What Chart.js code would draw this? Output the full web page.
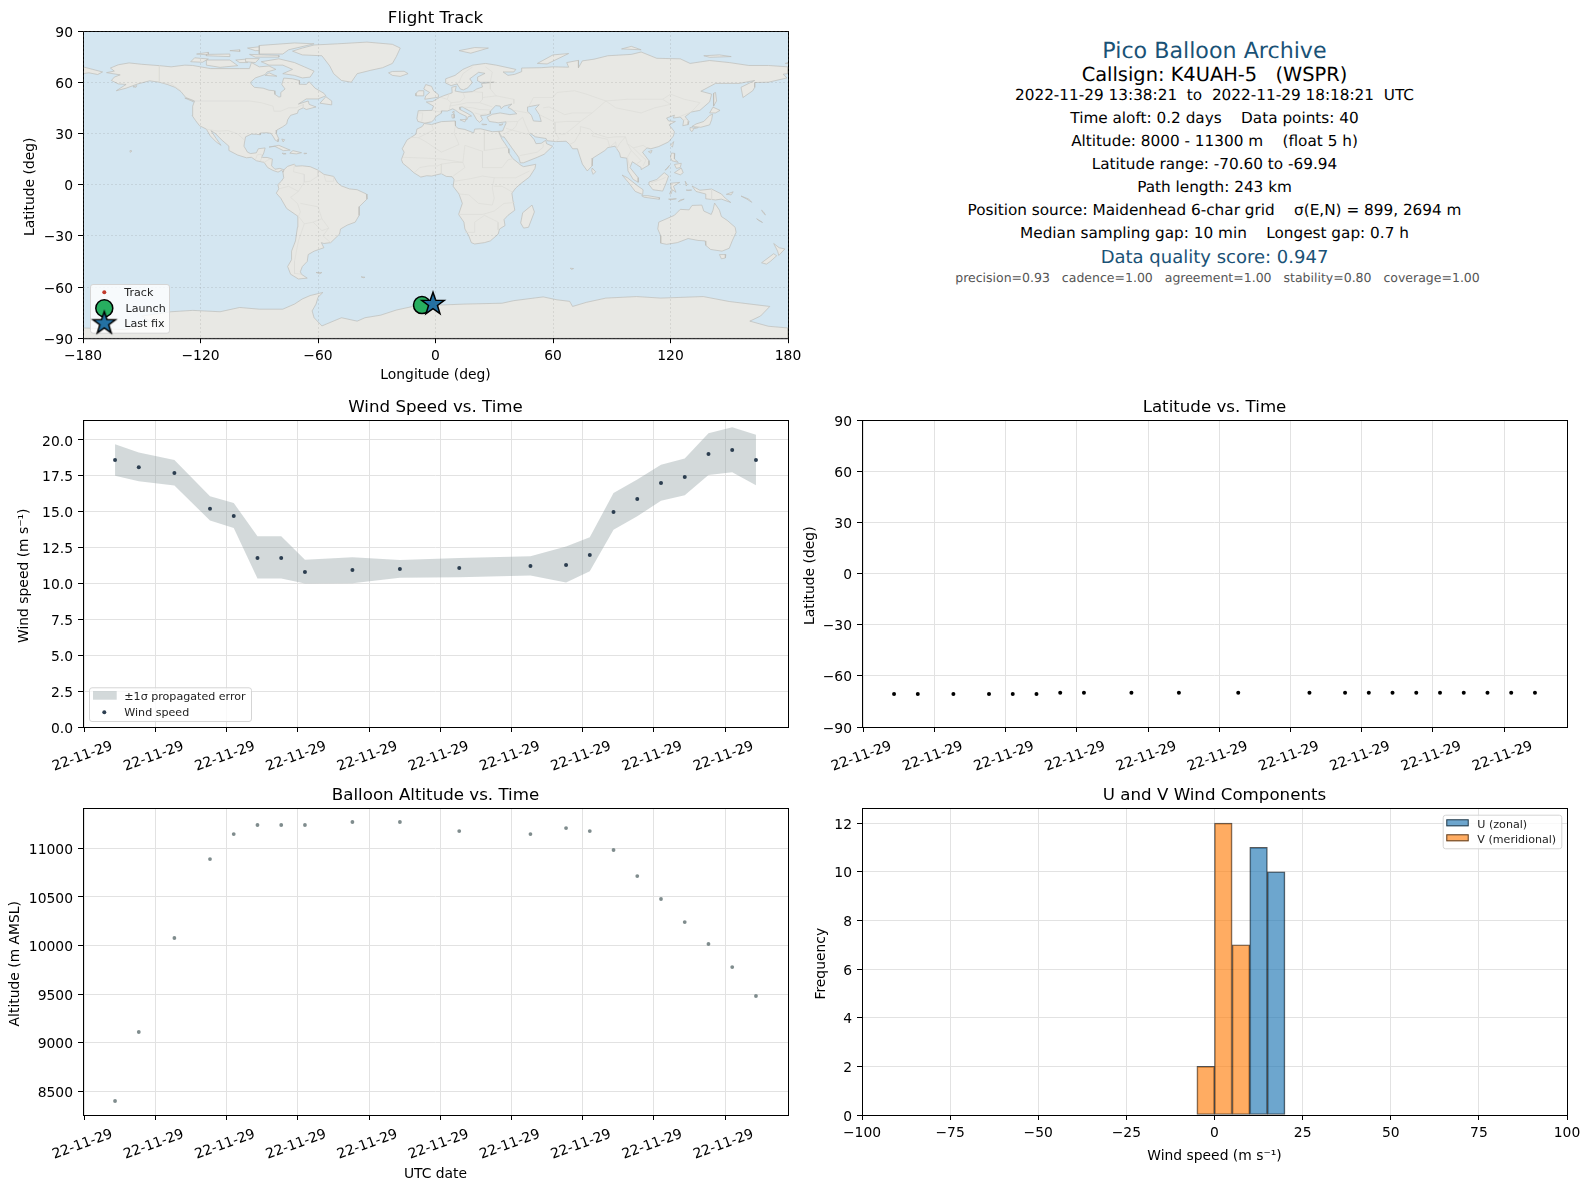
<!DOCTYPE html>
<html><head><meta charset="utf-8">
<script src="https://cdn.jsdelivr.net/npm/chart.js@4"></script>
<style>
html,body{margin:0;padding:0;background:#fff;width:1590px;height:1189px;overflow:hidden;font-family:'DejaVu Sans',sans-serif}
canvas{position:absolute;display:block}
.info{position:absolute;left:862px;width:705px;text-align:center;white-space:pre;line-height:1;text-rendering:geometricPrecision}
</style></head><body>
<canvas id="cMap" style="left:0;top:0"></canvas>
<canvas id="cWind" style="left:0;top:389px"></canvas>
<canvas id="cLat" style="left:779px;top:389px"></canvas>
<canvas id="cAlt" style="left:0;top:777px"></canvas>
<canvas id="cHist" style="left:779px;top:777px"></canvas>
<script>
// ---------- DATA ----------
const timeMinutes=[0,10,25,40,50,60,70,80,100,120,145,175,190,200,210,220,230,240,250,260,270];
const windSpeed=[18.6,18.1,17.7,15.2,14.7,11.78,11.78,10.8,10.94,11.0,11.08,11.22,11.29,11.99,14.98,15.89,17.0,17.42,19.02,19.3,18.6];
const windUpper=[19.7,19.12,18.6,16.07,15.6,13.29,13.29,11.66,11.82,11.64,11.78,11.89,12.57,13.22,16.31,17.24,18.28,18.7,20.46,20.88,20.37];
const windLower=[17.5,17.12,16.82,14.38,13.87,10.34,10.34,9.99,10.01,10.4,10.43,10.55,10.06,10.85,13.75,14.68,15.77,16.14,17.56,17.75,16.84];
const latitude=[-70.6,-70.6,-70.6,-70.6,-70.6,-70.6,-69.94,-69.94,-69.94,-69.94,-69.94,-69.94,-69.94,-69.94,-69.94,-69.94,-69.94,-69.94,-69.94,-69.94,-69.94];
const trackLon=[-6.9,-6.9,-6.5,-6,-5.6,-5.2,-4.8,-4.5,-4.1,-3.8,-3.4,-3.1,-2.9,-2.7,-2.5,-2.2,-2,-1.8,-1.6,-1.5,-1.3];
const altitude=[8401,9111,10078,10890,11147,11240,11240,11240,11271,11271,11178,11147,11209,11178,10983,10715,10479,10242,10016,9779,9481];
const timeTicks=[-13,17,47,77,107,137,167,197,227,257];
const timeTickLabels=["22-11-29","22-11-29","22-11-29","22-11-29","22-11-29","22-11-29","22-11-29","22-11-29","22-11-29","22-11-29"];
const lonTicks=[-180,-120,-60,0,60,120,180];
const latTicks=[-90,-60,-30,0,30,60,90];
const windTicks=[0,2.5,5,7.5,10,12.5,15,17.5,20];
const altTicks=[8500,9000,9500,10000,10500,11000];
const histXTicks=[-100,-75,-50,-25,0,25,50,75,100];
const histYTicks=[0,2,4,6,8,10,12];
const uBins=[12.5,17.5];
const uCounts=[11,10];
const vBins=[-2.5,2.5,7.5];
const vCounts=[2,12,7];
const launchPos=[-6.9,-70.6];
const lastFixPos=[-1.3,-69.94];
const infoLines=[
 ["Pico Balloon Archive",51,22.2,"#1a5276",0],
 ["Callsign: K4UAH-5   (WSPR)",74.3,19.4,"#000",0],
 ["2022-11-29 13:38:21  to  2022-11-29 18:18:21  UTC",95.7,15.28,"#000",0],
 ["Time aloft: 0.2 days    Data points: 40",118.7,15.28,"#000",0],
 ["Altitude: 8000 - 11300 m    (float 5 h)",141.3,15.28,"#000",0],
 ["Latitude range: -70.60 to -69.94",164.3,15.28,"#000",0],
 ["Path length: 243 km",187.7,15.28,"#000",0],
 ["Position source: Maidenhead 6-char grid    σ(E,N) = 899, 2694 m",210.3,15.28,"#000",0],
 ["Median sampling gap: 10 min    Longest gap: 0.7 h",233.3,15.28,"#000",0],
 ["Data quality score: 0.947",257.7,18,"#1a5276",0],
 ["precision=0.93   cadence=1.00   agreement=1.00   stability=0.80   coverage=1.00",278.7,12.5,"#555",3]
];
// land outlines in [lon,lat]
const northAmerica=[[-168,65.6],[-164,66.5],[-166,68.3],[-162,70.2],[-156.5,71.3],[-150,70.5],[-141,69.7],[-135,69],[-128,70],[-124,69.8],[-115,68],[-108,68],[-100,68],[-95,68],[-94,71.5],[-90,69],[-85,69.5],[-81.5,67.5],[-86,66],[-87,64.5],[-92,62.5],[-94.5,60],[-94,58.7],[-92.5,57],[-88,56.5],[-85,55.3],[-82.3,55],[-82,52.9],[-80,51.3],[-79,51.5],[-79,54],[-76.8,56],[-78.5,58.7],[-77.5,62.4],[-73,62],[-69.5,61],[-69.5,58.8],[-66,58.7],[-64.5,60.3],[-61.5,56.5],[-57,53.5],[-56,52],[-60,50.2],[-66,50.2],[-70,47.2],[-65,49],[-64.5,47],[-61,45.5],[-66,44],[-67.5,45],[-70,43.7],[-70.5,41.8],[-74,40.6],[-75.5,38],[-76,35.5],[-78,33.9],[-81,32],[-81.3,30],[-80,26.8],[-80.4,25.2],[-81.8,26],[-82.8,28],[-84,30],[-86,30.4],[-89.5,30.2],[-89.5,29.2],[-91.5,29.5],[-94,29.6],[-97,28],[-97.5,25],[-97.8,22.5],[-96,19],[-94.5,18.2],[-91.5,18.6],[-90.5,21],[-87,21.5],[-87.7,18.5],[-88.8,15.9],[-86,15.9],[-83.3,15],[-83.7,11],[-82,9],[-79.5,9.5],[-77.4,8.7],[-77.9,7.2],[-78.5,8.5],[-80.4,7.3],[-83,8.3],[-85.7,10],[-87.5,13],[-91.5,14],[-94,16],[-96.5,15.7],[-101,17.3],[-105.5,20],[-105.5,22.5],[-109,26],[-112.5,30],[-114.7,31.7],[-112,27],[-109.5,23],[-112,25],[-115,28.5],[-117,32.5],[-120.5,34.5],[-122.5,37.5],[-124.3,40.5],[-124,46],[-123,49],[-127.5,51],[-130,54.5],[-133,57],[-137,58.7],[-141,60],[-146,60.8],[-152,59],[-158,56.5],[-163,55],[-158,58.7],[-162,59],[-165.5,61],[-164,63],[-161,64.3],[-168,65.6]];
const southAmerica=[[-77.4,8.7],[-75.5,10.7],[-72,12],[-71.5,10.8],[-68,11],[-64,10.5],[-60,8.5],[-57,6],[-52,4.8],[-50,1],[-48,-0.8],[-44,-2.5],[-40,-3],[-35.3,-5.5],[-35,-8.5],[-39,-13],[-39,-18],[-41,-22],[-45,-23.7],[-48.5,-26],[-49,-29],[-53.5,-34],[-57,-34.5],[-58.3,-34],[-57,-37],[-62,-39],[-65,-41],[-65.5,-45],[-68,-48],[-69,-51],[-68.5,-52.5],[-65.5,-54.8],[-70,-55.3],[-74,-52.5],[-75.5,-48],[-73.5,-44],[-73.5,-39],[-71.5,-33],[-70.5,-25],[-70.3,-18.5],[-76,-14],[-79,-8],[-81.3,-5],[-80,-2.5],[-80.5,0],[-78.7,2],[-77.5,4],[-77.9,7.2],[-77.4,8.7]];
const africa=[[-5.8,35.8],[-2,35.2],[3,36.9],[10,37.3],[10.2,34.3],[11.5,33],[15,32.3],[19.5,30.3],[20,32.5],[23,32.7],[29,31],[32.3,31.2],[32.6,29.9],[34,26.5],[35.5,24],[37.2,21],[37.5,18.5],[39.5,15.2],[43,12],[43.3,11.5],[45,10.5],[51.2,11.9],[50.8,9.5],[48,4.5],[44,1],[41,-2],[39,-5],[39.5,-9],[40.5,-15],[37,-18],[35,-20.5],[35.5,-24],[32.7,-26],[32,-29],[28,-33],[25,-34],[20,-34.8],[18.3,-34],[17,-30],[15,-26],[14.5,-22],[11.8,-17.5],[13.7,-11],[12,-5.5],[9,-1],[9.5,3],[8.5,4.6],[5.5,4.8],[3,6.4],[-2,5],[-4.5,5.2],[-7.5,4.4],[-11,6.9],[-13.5,9.5],[-16.7,12.5],[-17.4,14.7],[-16,19],[-17,21],[-14.5,26.2],[-10,29.5],[-9.5,32.5],[-6.8,34],[-5.8,35.8]];
const eurasia=[[-5.5,36],[-9,37],[-9.5,38.8],[-8.8,43.3],[-1.8,43.5],[-1,46],[-4.7,48.4],[-1.5,48.7],[2,51],[4,52],[8.5,53.8],[8.3,57],[10.6,57.7],[10,54.8],[14,54],[19,54.5],[21,56],[24,57.2],[23.5,59.2],[30,60],[23,59.9],[21.3,61],[21.5,63],[25.3,65.2],[22,65.8],[17.5,62],[18.8,59.8],[16.5,56.7],[14.2,55.5],[12.7,56],[11,59],[8,58],[5.2,59.5],[5.2,62],[10,64],[14,67.5],[19,70],[25.5,71],[31,70],[41,67.5],[40,66],[34.5,66],[37,64],[40.5,64.6],[44,66.2],[44,68.3],[54,68.5],[60,69],[68,68.8],[67,71.5],[73,72.8],[73,68.5],[75,72.5],[81,73.5],[88,75.5],[100,76.3],[105,77.7],[113,74],[125,73.7],[130,71],[140,72.7],[150,71.5],[160,69.8],[170,69.8],[180,69],[180,65],[177.5,64.7],[179.5,62.5],[170,60],[163,59.8],[163,57],[162,55],[157,51],[156,57],[163,61],[155,59.3],[143,59.3],[135.5,54.7],[141,53],[140,48.5],[135,43.5],[130.5,42.5],[127.5,39.8],[129.4,37],[129,35.2],[126.3,34.5],[126.7,37.5],[125,39.6],[121.5,39],[122,40.7],[118,39],[119,37.3],[122.5,37],[119.3,35],[122,31],[121.5,28.5],[119,25],[114,22.3],[110,21],[108,21.5],[105.7,19],[109,14],[109,11.5],[105,8.8],[105,10],[100.5,13.4],[99.3,10],[103.5,4],[103.5,1.4],[101,3],[98.3,8],[97.7,15.5],[94.5,16],[94,18.5],[91.7,22.5],[88,21.7],[86.5,20],[80.3,15.5],[80,11],[77.5,8],[75,12],[73,19],[72.5,21],[70,21],[68.5,23.5],[66.7,25.4],[61.5,25.2],[57,25.7],[56.5,27],[51,28],[48.5,30],[48,29.5],[50.3,26.5],[51.3,24],[54,24.2],[56.3,26],[56.7,24],[59.8,22.5],[55.5,17.8],[52,16],[45,12.8],[43.3,12.7],[42.5,16],[39,21.5],[35,28],[34.2,27.8],[32.6,29.9],[32.3,31.2],[34.3,31.4],[36,36],[36,36.8],[32,36.2],[30.5,36.5],[27.5,37],[26.3,39.5],[29,41.2],[33,42],[38,41],[41.5,41.5],[39,44],[37,45.2],[39,47.2],[35,46],[33.5,44.5],[33,46],[30.7,46.3],[28,43],[28,41.5],[26,40.8],[23,40.4],[24,38],[22.5,36.5],[21,38],[19.3,41.5],[18.5,42.5],[13.7,45.5],[12.3,45.3],[12.5,44],[16,41.9],[18.4,40.2],[16.7,39.8],[16,38],[15.7,40],[12.3,41.8],[10.3,43.5],[8.8,44.4],[6,43.1],[3.2,43.2],[3,41.9],[0,39.7],[-0.5,38.3],[-2,36.8],[-5.5,36]];
const antarctica=[[-180,-90],[-180,-84],[-158,-85],[-146,-80],[-150,-77],[-135,-74.5],[-124,-73.7],[-110,-74.5],[-100,-72],[-90,-73],[-78,-73],[-72,-70],[-68,-67],[-64,-65],[-57.5,-63.2],[-60,-66],[-61,-70],[-63,-74],[-62,-78],[-58,-82.8],[-48,-78],[-40,-80],[-36,-78],[-28,-76.5],[-20,-73.5],[-12,-71.5],[-5,-70.5],[4,-70.5],[15,-70],[34,-69.5],[40,-68],[55,-65.8],[62,-67.5],[68.5,-68.4],[70,-71.4],[77,-69],[87,-66.5],[102.7,-65.6],[115,-66.5],[136.7,-65.6],[150,-68.5],[170.7,-71.4],[166,-77],[160.5,-80],[170,-83],[180,-84],[180,-90],[-180,-90]];
const greenland=[[-73,78.2],[-68,80],[-62,81.8],[-50,82.5],[-35,83.5],[-22,82.2],[-18,80],[-20,75],[-22,71],[-27,68.5],[-33,67],[-40,65],[-43,60],[-48,61],[-52,65],[-54,69.5],[-58,75.5],[-68,76],[-73,78.2]];
const australia=[[114,-22],[113.5,-26],[115,-30],[115,-34.3],[118,-35],[123.5,-34],[129,-31.6],[134,-32.7],[137.7,-33],[138,-35.6],[140.5,-38],[146.3,-39],[150,-37.3],[151.5,-33],[153.5,-28],[153,-25],[149,-21],[146,-18.7],[145,-15],[142.5,-10.8],[141.7,-15],[140.8,-17.5],[137,-15.5],[136,-12],[131,-12.2],[129.5,-14.8],[125,-14.5],[122,-18],[114,-22]];
const chukotka=[[-180,69],[-175,67.5],[-170,66],[-172.5,64.5],[-177,65.5],[-180,65],[-180,69]];
const baffin=[[-80,73.7],[-72,71.5],[-67,69],[-62,66.5],[-64,63],[-68,62.5],[-72,64],[-78,65],[-73,67.5],[-78,70],[-85,70],[-89,72],[-80,73.7]];
const victoria=[[-117,73],[-105,73],[-101,69.7],[-110,68.7],[-117,70],[-117,73]];
const banks=[[-125,72],[-123,74.3],[-116,73.6],[-119,71.7],[-125,72]];
const ellesmere=[[-90,76.5],[-78,76.5],[-75,79],[-62,82.5],[-72,83],[-90,81.5],[-90,76.5]];
const devon=[[-95,76.3],[-80,75.7],[-80,74.7],[-92,74.7],[-95,76.3]];
const melville=[[-117,75.5],[-105,75],[-105,76.5],[-117,76.3],[-117,75.5]];
const somerset=[[-97,73.8],[-90,73.8],[-92,71.5],[-97,72],[-97,73.8]];
const princePatrick=[[-122,76.5],[-116,77.5],[-116,76],[-122,76.5]];
const axelHeiberg=[[-96,80],[-88,81],[-86,78.5],[-92,78.5],[-96,80]];
const ringnes=[[-105,78.5],[-100,79],[-100,78],[-105,78.5]];
const princeWales=[[-102,73],[-97,73.5],[-96,71.5],[-100,71.5],[-102,73]];
const southampton=[[-87,64],[-81,63.5],[-85,65.5],[-87,64]];
const newfoundland=[[-59,47.7],[-53,46.7],[-53,49],[-56,51.5],[-59,47.7]];
const vancouverI=[[-128,50.7],[-123.5,48.5],[-125,50],[-128,50.7]];
const kodiak=[[-154.5,57.3],[-152.5,58],[-153,57],[-154.5,57.3]];
const iceland=[[-24,65.5],[-22,64],[-18,63.4],[-14,65],[-16,66.4],[-22,66.3],[-24,65.5]];
const svalbard=[[12,78.5],[20,80.3],[27,80],[18,77],[12,78.5]];
const novayaZemlya=[[52,71],[57,70.7],[68,76.8],[60,76],[52,71]];
const severnaya=[[95,79.5],[105,79],[100,81],[95,79.5]];
const newSiberian=[[137,75.5],[145,76],[151,75],[140,74.6],[137,75.5]];
const britain=[[-5.5,50],[1.3,51.2],[1.5,52.7],[-1,55],[-2,57.6],[-5,58.6],[-6,56],[-3,54],[-5,52],[-5.5,50]];
const ireland=[[-10,52],[-6,52],[-6,55],[-8.5,55],[-10,53.5],[-10,52]];
const sicily=[[12.5,38],[15.5,38.2],[15,36.7],[12.5,38]];
const sardinia=[[8.3,41],[9.7,41],[9.5,39],[8.5,39],[8.3,41]];
const corsica=[[8.6,42.5],[9.5,43],[9.4,41.5],[8.6,42.5]];
const crete=[[23.6,35.5],[26.2,35.2],[24,35],[23.6,35.5]];
const cyprus=[[32.4,35],[34.5,35.6],[33.5,34.7],[32.4,35]];
const madagascar=[[49.3,-12],[50.5,-16],[47.5,-25],[45,-25.5],[43.5,-22.5],[44.5,-16.5],[49.3,-12]];
const sriLanka=[[80,9.7],[81.8,7.5],[80.5,6],[79.8,8],[80,9.7]];
const honshu=[[130.9,34],[135.5,33.6],[140,35],[141,38],[141.5,41.3],[140,40.5],[137,37],[133,35.5],[130.9,34]];
const hokkaido=[[140,42],[141.7,45.4],[145.3,43.5],[143,42],[140,42]];
const kyushu=[[130,33.5],[132,33],[131,31],[130,32],[130,33.5]];
const shikoku=[[132.3,33.5],[134.5,34.2],[134,33.3],[132.5,32.9],[132.3,33.5]];
const sakhalin=[[142,46],[143.5,49],[143,54],[142,53.5],[142,48],[142,46]];
const taiwan=[[120,23],[121.6,25.2],[121,22],[120,23]];
const hainan=[[108.7,19.3],[110.6,20],[110,18.4],[108.7,19.3]];
const luzon=[[120.5,18.5],[122.2,18.3],[122,15],[124,13],[120.7,14],[120,16],[120.5,18.5]];
const visayas=[[122,11.8],[125.5,12.5],[125,10],[123,9.5],[122,11.8]];
const mindanao=[[122,7],[125.5,9.7],[126.5,7],[125,5.7],[122,7]];
const palawan=[[117.2,8.4],[119.5,11.3],[118.5,9.5],[117.2,8.4]];
const borneo=[[109,1.5],[113,3],[116.8,7],[119,5],[117.8,1],[116,-3.8],[111,-3],[109,0],[109,1.5]];
const sumatra=[[95.3,5.6],[98,4],[103.5,-1],[106,-3],[105.8,-5.8],[102,-4],[98.7,1],[95.3,5.6]];
const java=[[105.3,-6.5],[108.5,-6.5],[114.5,-7.7],[114.3,-8.6],[106.5,-7.4],[105.3,-6.5]];
const sulawesi=[[119.5,-5.5],[120.5,-3],[120,0.8],[124.7,1.3],[121.5,-1],[122.8,-4.5],[121,-3],[120.3,-5.5],[119.5,-5.5]];
const timor=[[124,-10],[127,-8.5],[125,-9],[124,-10]];
const flores=[[119,-8.5],[123,-8.3],[120,-8.9],[119,-8.5]];
const halmahera=[[127.5,2],[128.5,0],[128,-0.8],[127.5,2]];
const seram=[[128,-3.2],[130.8,-3.2],[129,-3.5],[128,-3.2]];
const newGuinea=[[131,-0.8],[135,-3.3],[141,-2.6],[146,-5.5],[148,-8],[150.8,-10.5],[146,-8.5],[143,-9],[138,-8.3],[138,-5.5],[133,-4],[131,-0.8]];
const newBritain=[[148.5,-5.7],[152,-4.2],[151,-6],[148.5,-5.7]];
const solomons=[[156,-6.7],[160,-8.5],[161.5,-10.4],[159,-8.5],[156,-6.7]];
const vanuatu=[[166.5,-15],[167.5,-16],[168.5,-17.8],[167.3,-16.5],[166.5,-15]];
const newCaledonia=[[164,-20],[167,-22.2],[165,-21],[164,-20]];
const tasmania=[[145,-41],[148.3,-41],[148,-43],[146,-43.5],[145,-41]];
const nzNorth=[[172.7,-34.5],[175.5,-37],[178.4,-37.7],[175.3,-41.5],[174.7,-39],[172.7,-34.5]];
const nzSouth=[[172.7,-40.5],[174.2,-41.7],[171,-45],[169,-46.6],[166.5,-45.8],[172.7,-40.5]];
const cuba=[[-85,22],[-80,23],[-74.2,20.2],[-77.7,19.9],[-82,22.4],[-85,22]];
const hispaniola=[[-74.4,18.4],[-72.8,19.9],[-68.4,18.7],[-71,18],[-74.4,18.4]];
const jamaica=[[-78.3,18.4],[-76.3,18.1],[-77.5,17.8],[-78.3,18.4]];
const puertoRico=[[-67.2,18.4],[-65.7,18.3],[-67,18],[-67.2,18.4]];
const bahamas=[[-78.5,26.7],[-77,26.3],[-77.8,25],[-78.5,26.7]];
const hawaii=[[-156,20],[-155,19.7],[-155.7,19],[-156,20]];
const falklands=[[-61,-51.5],[-58,-51.5],[-59,-52.3],[-61,-51.5]];
const southGeorgia=[[-38,-54],[-36,-54.3],[-37,-54.6],[-38,-54]];
const kerguelen=[[68.8,-49],[70.5,-49.2],[69.5,-49.7],[68.8,-49]];
const wrangel=[[178.6,71],[180,71.5],[180,70.8],[178.6,71]];
const lands=[antarctica,northAmerica,southAmerica,africa,eurasia,greenland,australia,chukotka,baffin,victoria,banks,ellesmere,devon,melville,somerset,princePatrick,axelHeiberg,ringnes,princeWales,southampton,newfoundland,vancouverI,kodiak,iceland,svalbard,novayaZemlya,severnaya,newSiberian,britain,ireland,sicily,sardinia,corsica,crete,cyprus,madagascar,sriLanka,honshu,hokkaido,kyushu,shikoku,sakhalin,taiwan,hainan,luzon,visayas,mindanao,palawan,borneo,sumatra,java,sulawesi,timor,flores,halmahera,seram,newGuinea,newBritain,solomons,vanuatu,newCaledonia,tasmania,nzNorth,nzSouth,cuba,hispaniola,jamaica,puertoRico,bahamas,hawaii,falklands,southGeorgia,kerguelen,wrangel];
const caspian=[[47,45.5],[53,46.8],[51,44.5],[53,41],[54,37],[50,37.3],[49,40.5],[47,43],[47,45.5]];
// borders in [lon,lat]
const bdrUSCan=[[-123,49],[-95,49],[-89,48],[-83,46],[-82.5,43],[-79,43],[-75,45],[-71,45],[-67.5,47],[-67.5,45]];
const bdrAlaska=[[-141,69.7],[-141,60],[-135,59],[-130,55]];
const bdrUSMex=[[-117,32.5],[-111,31.3],[-106,31.7],[-101,29.7],[-97.5,26]];
const bdrCentral=[[-92,14.5],[-91,17.5],[-89,17.8],[-88.5,15.9],[-89.5,14],[-87.5,13],[-85,14.8],[-83.5,15]];
const bdrAndes=[[-72,12],[-72.5,7.5],[-67,6],[-67,1.5],[-70,-4],[-74,-7.5],[-70.5,-11],[-69,-16],[-70,-18.5],[-67,-23],[-70,-33],[-72,-45],[-72,-52],[-68.5,-52.5]];
const bdrBrazil=[[-60,8.5],[-60,5],[-64,2],[-67,1.5]];
const bdrBrazil2=[[-69,-11],[-60,-13],[-58,-20],[-54.5,-25.5],[-57.5,-30],[-53.5,-34]];
const bdrGuiana=[[-57,6],[-56,2],[-52,2],[-52,4.8]];
const bdrSA3=[[-80,-2.5],[-75,-1],[-70,-4]];
const bdrSA4=[[-67,-23],[-62.5,-22],[-58,-20]];
const bdrSA5=[[-62.5,-22],[-58,-27],[-54.5,-25.5]];
const bdrNAfrica1=[[-13,27.7],[-8.7,27.5],[-1,32],[-2,35.2]];
const bdrNAfrica2=[[-8.7,27.5],[-4.8,25],[3,19],[12,23.5],[9.5,30],[10,34]];
const bdrNAfrica3=[[25,32],[25,20],[37,22]];
const bdrSahel=[[-16.5,16],[-5,15.5],[3,15],[14,13],[15,23],[24,19.5],[24,10],[34,10],[37,14.5],[39.5,15.2]];
const bdrWestAf=[[-11,6.9],[-8,10],[-3,11],[1,11],[3,12],[3,6.4]];
const bdrWest2=[[3,12],[9,13],[14,13],[15,10],[9,5]];
const bdrCentralAf=[[10,2],[18,3.5],[24,5],[30,4],[34,4],[41,4],[48,8]];
const bdrCongo=[[12,-5.5],[17,-6],[22,-11],[29,-12],[30,-8],[29,-2],[30,4]];
const bdrSouthAf=[[11.8,-17.5],[24,-17.5],[30,-15.5],[35,-11],[40.5,-10.5]];
const bdrSouthAf2=[[15,-28],[20,-28],[20,-22],[25,-18],[32,-22],[32,-26.5]];
const bdrEastAf=[[30,-1],[34,-1],[39.5,-4.5]];
const bdrRussia=[[28,60],[28,56],[31,52],[40,50],[40,47.5]];
const bdrRussia2=[[47.5,45.5],[50,51],[60,51],[62,54],[71,55],[77,53],[87,49],[98,50],[107,50],[116,50],[120,53],[127,50],[135,48],[131,43]];
const bdrNordic=[[25.5,69],[29,66],[28,60]];
const bdrNordic2=[[19,69],[14,65],[12,60],[11,59]];
const bdrEurope1=[[3,51],[6,50],[8,48],[7,44]];
const bdrEurope2=[[7,53.5],[6,50]];
const bdrEurope3=[[14,54],[15,51],[12.5,48.5],[8,48]];
const bdrEurope4=[[19,54.5],[24,54],[24,50],[22.5,48],[16,48],[12.5,47],[7,46]];
const bdrEurope5=[[22.5,48],[29,45.5]];
const bdrEurope6=[[13.7,45.5],[19,45],[22.5,44],[28,43.7]];
const bdrEurope7=[[20,42],[23,41],[26,41.5]];
const bdrEurope8=[[31,52],[24,51]];
const bdrIberia=[[-1.8,43.5],[3,42.4]];
const bdrIberia2=[[-8.8,42],[-6.5,42],[-7,37]];
const bdrMidEast1=[[36,36.8],[42,37],[44.5,39.5]];
const bdrMidEast2=[[36,33],[39,32],[47,29.5]];
const bdrMidEast3=[[42,37],[41,34],[39,32]];
const bdrMidEast4=[[44.5,39.5],[46,35],[48,30]];
const bdrMidEast5=[[35,29.5],[37,31],[39,32]];
const bdrMidEast6=[[43,17],[52,19],[55,22],[55,24]];
const bdrCaucasus=[[40,43.5],[48,41.8]];
const bdrCentralAsia=[[53,41],[61,36.5],[67,37],[74,37],[80,42],[87,49]];
const bdrCentralAsia2=[[55,45],[58,45.5],[66,41],[70,42],[80,42]];
const bdrIran=[[61,36.5],[61,31],[63,27],[61.5,25.2]];
const bdrAfPak=[[61,30],[66,29.5],[71,34],[74,37]];
const bdrIndia=[[68.5,23.5],[71,25],[74,31],[74,34],[79,32.5],[81,30],[88,27.5],[92,28],[97,28],[94,24],[92.5,21]];
const bdrNepal=[[81,30],[80,28.5],[88,26.5]];
const bdrBangla=[[88,26],[89,22],[92,25],[92.5,21]];
const bdrChinaSE=[[97,28],[98,24],[101,21.5],[106,23],[108,21.5]];
const bdrIndochina=[[98,24],[100,20],[98,16],[99,11]];
const bdrIndochina2=[[101,21.5],[105,17],[107.5,14.5],[106,11]];
const bdrIndochina3=[[100,20],[105,14],[102.5,12]];
const bdrMongolia=[[87,49],[92,45],[105,42],[112,45],[120,47],[116,50]];
const bdrKorea=[[125,40],[130.5,42.5]];
const bdrKorea2=[[126,38],[128.5,38.5]];
const bdrBorneo=[[110,1],[115,3],[117.5,4.2]];
const bdrGuinea=[[141,-2.6],[141,-9]];
const borders=[bdrUSCan,bdrAlaska,bdrUSMex,bdrCentral,bdrAndes,bdrBrazil,bdrBrazil2,bdrGuiana,bdrSA3,bdrSA4,bdrSA5,bdrNAfrica1,bdrNAfrica2,bdrNAfrica3,bdrSahel,bdrWestAf,bdrWest2,bdrCentralAf,bdrCongo,bdrSouthAf,bdrSouthAf2,bdrEastAf,bdrRussia,bdrRussia2,bdrNordic,bdrNordic2,bdrEurope1,bdrEurope2,bdrEurope3,bdrEurope4,bdrEurope5,bdrEurope6,bdrEurope7,bdrEurope8,bdrIberia,bdrIberia2,bdrMidEast1,bdrMidEast2,bdrMidEast3,bdrMidEast4,bdrMidEast5,bdrMidEast6,bdrCaucasus,bdrCentralAsia,bdrCentralAsia2,bdrIran,bdrAfPak,bdrIndia,bdrNepal,bdrBangla,bdrChinaSE,bdrIndochina,bdrIndochina2,bdrIndochina3,bdrMongolia,bdrKorea,bdrKorea2,bdrBorneo,bdrGuinea];

// ---------- STYLE HELPERS ----------
const FONT="'DejaVu Sans'";
Chart.defaults.font.family=FONT;
Chart.defaults.color='#000';
Chart.defaults.font.size=13.89;
const W=705,H=307,LEFT=83,TOP=31;
const minus=v=>String(v).replace('-','\u2212');
infoLines.forEach(([t,y,s,c,dx])=>{const d=document.createElement('div');d.className='info';d.textContent=t;d.style.top=(y-s/2)+'px';d.style.fontSize=s+'px';d.style.color=c;d.style.marginLeft=dx+'px';document.body.appendChild(d);});

const framePlugin={id:'frame',afterDatasetsDraw(c){const a=c.chartArea,x=c.ctx;x.save();x.strokeStyle='#000';x.lineWidth=1;x.strokeRect(a.left+.5,a.top+.5,a.width,a.height);x.restore();}};
const oceanPlugin={id:'ocean',beforeDraw(c,_,o){if(!o.color)return;const a=c.chartArea,x=c.ctx;x.save();x.fillStyle=o.color;x.fillRect(a.left,a.top,a.width,a.height);x.restore();}};
const starImg=makeStar(11.8,4.7,'#2471a3','#000',1.5);
function starPath(x,cx,cy,R,r){x.beginPath();for(let i=0;i<10;i++){const a=-Math.PI/2+i*Math.PI/5,q=i%2?r:R;x.lineTo(cx+q*Math.cos(a),cy+q*Math.sin(a));}x.closePath();}
function makeStar(R,r,fill,stroke,lw){const s=document.createElement('canvas');s.width=s.height=34;const x=s.getContext('2d');starPath(x,17,17,R,r);x.fillStyle=fill;x.fill();x.lineWidth=lw;x.strokeStyle=stroke;x.lineJoin='miter';x.stroke();return s;}
const legendPlugin={id:'boxLegend',afterDraw(c,_,o){
  if(!o.items)return;const x=c.ctx,b=o.box;x.save();
  x.beginPath();x.roundRect(b[0]+.5,b[1]+.5,b[2],b[3],2.5);x.fillStyle='rgba(255,255,255,.8)';x.fill();x.strokeStyle='#d5d5d5';x.lineWidth=1;x.stroke();
  o.items.forEach(it=>{
    if(it.kind==='rect'){x.fillStyle=it.fill;x.fillRect(it.x,it.y,it.w,it.h);if(it.stroke){x.strokeStyle=it.stroke;x.lineWidth=1;x.strokeRect(it.x+.5,it.y+.5,it.w-1,it.h-1);}}
    if(it.kind==='dot'){x.beginPath();x.arc(it.x,it.y,it.r,0,7);x.fillStyle=it.fill;x.fill();if(it.stroke){x.lineWidth=1.5;x.strokeStyle=it.stroke;x.stroke();}}
    if(it.kind==='star'){x.drawImage(starImg,it.x-17,it.y-17);}
  });
  x.fillStyle='#222';x.font="11.1px "+FONT;x.textBaseline='middle';x.textAlign='left';
  o.labels.forEach(l=>x.fillText(l[0],l[1],l[2]+1));
  x.restore();
}};
function tickScale(ticks,fmt,extra){return Object.assign({type:'linear',min:ticks[0],max:ticks[ticks.length-1],
  afterBuildTicks(s){s.ticks=ticks.map(v=>({value:v}));},
  ticks:{autoSkip:false,maxRotation:0,minRotation:0,padding:5,callback:(v,i)=>fmt(v,i),color:'#000',font:{size:13.89}},
  grid:{color:'#e2e2e2',lineWidth:1,tickColor:'#000',tickLength:5,drawTicks:true,offset:false},
  border:{display:false}},extra||{});}
function base(opts){const {title,yTitle,yTitlePad,xTitle,xH,x,y,right=20}=opts;
  x.afterFit=s=>{s.height=xH;};
  y.afterFit=s=>{s.width=LEFT;};
  y.ticks.labelOffset=2;
  y.title={display:true,text:yTitle+' ',font:{size:13.89},padding:{top:yTitlePad,bottom:0},color:'#000'};
  if(xTitle)x.title={display:true,text:xTitle,font:{size:13.89},padding:{top:0,bottom:0},color:'#000'};
  return {responsive:false,animation:false,devicePixelRatio:1,
    layout:{autoPadding:false,padding:{left:0,right,top:0,bottom:0}},
    plugins:{legend:{display:false},tooltip:{enabled:false},
      title:{display:true,text:title,fullSize:false,font:{size:16.67,weight:'normal'},color:'#000',padding:{top:9,bottom:2}},
      ...opts.plug},
    scales:{x,y}};
}
function size(id,h,w){const c=document.getElementById(id);c.width=w||(LEFT+W+20);c.height=Math.round(h);return c;}
const rotated={maxRotation:20,minRotation:20,labelOffset:28,padding:6};
function timeAxis(){const ax=tickScale(timeTicks,(v,i)=>timeTickLabels[i]);ax.min=-13.5;ax.max=283.5;Object.assign(ax.ticks,rotated);return ax;}
const pts=(xs,ys)=>xs.map((x,i)=>({x,y:ys[i]}));
const pairs=a=>a.map(([x,y])=>({x,y}));

// ---------- FLIGHT TRACK ----------
const LAND='#e8e8e4',COAST='#bdbdb9',OCEAN='#d4e6f1';
const mapSets=[];
mapSets.push({data:pts([lastFixPos[0]],[lastFixPos[1]]),showLine:false,pointStyle:starImg,pointRadius:12,order:0});
mapSets.push({data:pts([launchPos[0]],[launchPos[1]]),showLine:false,pointRadius:8.5,pointBackgroundColor:'#27ae60',pointBorderColor:'#000',pointBorderWidth:1.5,order:1});
mapSets.push({data:pts(trackLon,latitude),showLine:false,pointRadius:1.7,pointBackgroundColor:'#c0392b',pointBorderWidth:0,order:2});
borders.forEach(b=>mapSets.push({data:pairs(b),borderColor:'#dcdcd8',borderWidth:.7,pointRadius:0,fill:false,tension:0,order:3}));
mapSets.push({data:pairs(caspian),borderColor:COAST,borderWidth:.7,backgroundColor:OCEAN,fill:'shape',pointRadius:0,tension:0,order:4});
lands.forEach(l=>mapSets.push({data:pairs(l),borderColor:COAST,borderWidth:.7,backgroundColor:LAND,fill:'shape',pointRadius:0,tension:0,order:5}));
const mapX=tickScale(lonTicks,v=>minus(v)),mapY=tickScale(latTicks,v=>minus(v));
[mapX,mapY].forEach(a=>{a.grid.color='rgba(120,120,120,.17)';a.border={display:false,dash:[2,2]};a.grid.z=1;a.grid.lineWidth=1;});
new Chart(size('cMap',TOP+H+45.8),{type:'line',data:{datasets:mapSets},plugins:[oceanPlugin,framePlugin,legendPlugin],
 options:base({title:'Flight Track',yTitle:'Latitude (deg)',yTitlePad:22,xTitle:'Longitude (deg)',xH:45.8,x:mapX,y:mapY,plug:{
  ocean:{color:OCEAN},
  boxLegend:{box:[90,284,79,48.7],
   items:[{kind:'dot',x:104.3,y:292.3,r:2,fill:'#c0392b'},{kind:'dot',x:104.3,y:308.3,r:8.5,fill:'#27ae60',stroke:'#000'},{kind:'star',x:104.3,y:323.3}],
   labels:[['Track',124.3,292.3],['Launch',125.5,308.3],['Last fix',124.3,323.3]]}}})});

// ---------- WIND SPEED ----------
const BAND='rgba(149,165,166,.42)';
new Chart(size('cWind',TOP+H+60),{type:'line',data:{datasets:[
  {data:pts(timeMinutes,windSpeed),showLine:false,pointRadius:2,pointBackgroundColor:'#2c3e50',pointBorderWidth:0,order:0},
  {data:pts(timeMinutes,windUpper),pointRadius:0,borderWidth:0,fill:'+1',backgroundColor:BAND,tension:0,order:1},
  {data:pts(timeMinutes,windLower),pointRadius:0,borderWidth:0,fill:false,tension:0,order:2}
 ]},plugins:[framePlugin,legendPlugin],
 options:base({title:'Wind Speed vs. Time',yTitle:'Wind speed (m s\u207B\u00B9)',yTitlePad:15.7,xH:60,x:timeAxis(),
  y:(()=>{const a=tickScale(windTicks,v=>v.toFixed(1));a.min=0;a.max=21.39;return a;})(),plug:{
  boxLegend:{box:[89,298.3,162,33.7],
   items:[{kind:'rect',x:93,y:302,w:23.7,h:8.7,fill:BAND},{kind:'dot',x:104.3,y:323.3,r:2,fill:'#2c3e50'}],
   labels:[['\u00B11\u03C3 propagated error',124.3,307],['Wind speed',124.3,323.3]]}}})});

// ---------- LATITUDE ----------
new Chart(size('cLat',TOP+H+60),{type:'line',data:{datasets:[
  {data:pts(timeMinutes,latitude),showLine:false,pointRadius:2,pointBackgroundColor:'#000',pointBorderWidth:0}
 ]},plugins:[framePlugin],
 options:base({title:'Latitude vs. Time',yTitle:'Latitude (deg)',yTitlePad:22.7,xH:60,x:timeAxis(),y:tickScale(latTicks,v=>minus(v))})});

// ---------- ALTITUDE ----------
new Chart(size('cAlt',TOP+H+68),{type:'line',data:{datasets:[
  {data:pts(timeMinutes,altitude),showLine:false,pointRadius:1.9,pointBackgroundColor:'#7f8c8d',pointBorderWidth:0}
 ]},plugins:[framePlugin],
 options:base({title:'Balloon Altitude vs. Time',yTitle:'Altitude (m AMSL)',yTitlePad:7.5,xTitle:'UTC date',xH:68,x:timeAxis(),
  y:(()=>{const a=tickScale(altTicks,v=>String(v));a.min=8257;a.max=11415;return a;})()})});

// ---------- HISTOGRAM ----------
const UF='rgba(31,119,180,.65)',VF='rgba(255,127,14,.65)',EDGE='rgba(0,0,0,.65)';
const histX=tickScale(histXTicks,v=>minus(v));histX.offset=false;
const histY=tickScale(histYTicks,v=>String(v));histY.min=0;histY.max=12.62;
new Chart(size('cHist',TOP+H+50,808),{type:'bar',data:{datasets:[
  {label:'U (zonal)',data:pts(uBins,uCounts),backgroundColor:UF,borderColor:EDGE,borderWidth:1,borderSkipped:false,barPercentage:1,categoryPercentage:1,grouped:false},
  {label:'V (meridional)',data:pts(vBins,vCounts),backgroundColor:VF,borderColor:EDGE,borderWidth:1,borderSkipped:false,barPercentage:1,categoryPercentage:1,grouped:false}
 ]},plugins:[framePlugin,legendPlugin],
 options:base({title:'U and V Wind Components',yTitle:'Frequency',yTitlePad:34.4,xTitle:'Wind speed (m s\u207B\u00B9)',xH:50,x:histX,y:histY,plug:{
  boxLegend:{box:[663.7,37.7,118.6,33.6],
   items:[{kind:'rect',x:667.3,y:42.3,w:22.4,h:7,fill:UF,stroke:EDGE},{kind:'rect',x:667.3,y:57.3,w:22.4,h:7,fill:VF,stroke:EDGE}],
   labels:[['U (zonal)',698.3,47],['V (meridional)',698.3,62]]}}})});
</script>
</body></html>
